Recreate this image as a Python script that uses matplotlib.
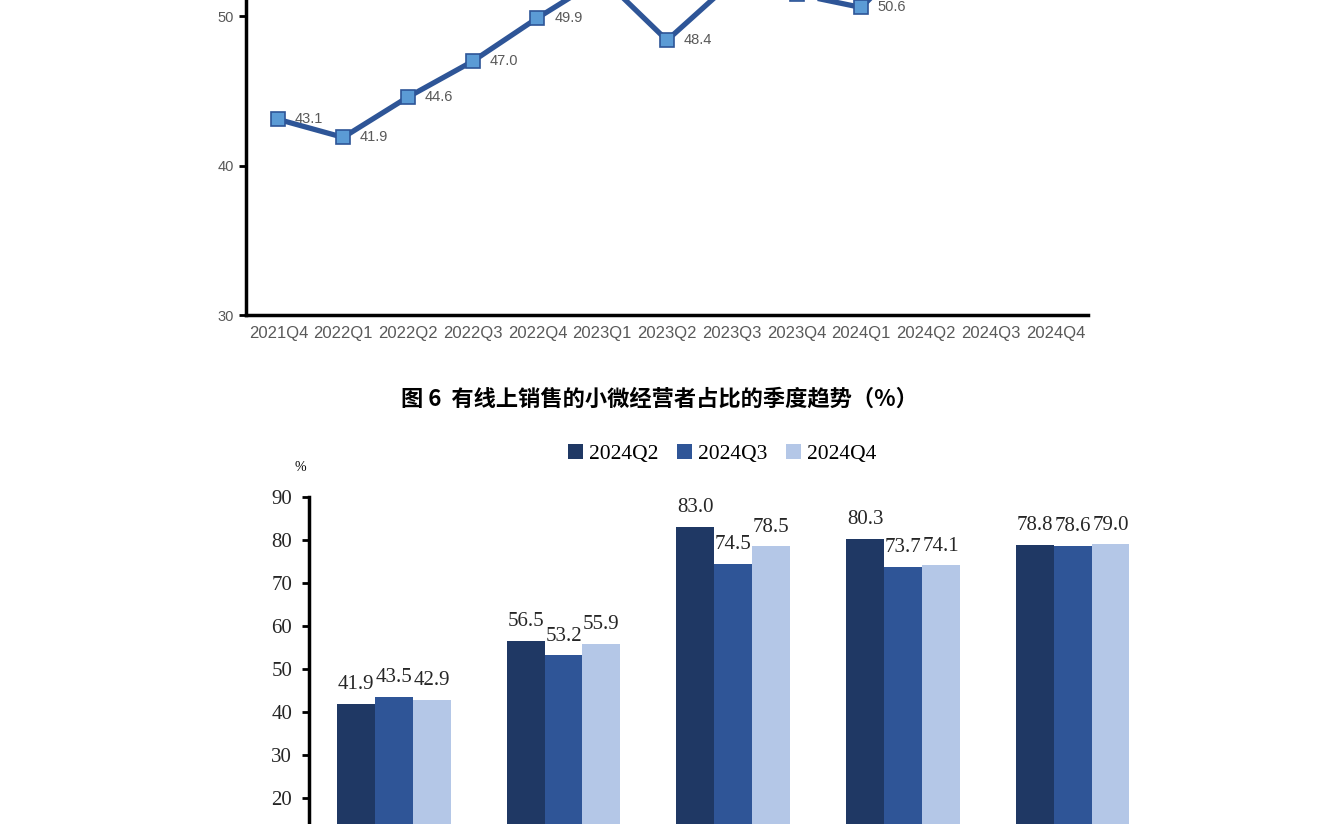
import matplotlib.pyplot as plt
import numpy as np

plt.rcParams['font.family'] = ['Liberation Sans', 'Noto Sans CJK SC', 'DejaVu Sans']

# 上图：有线上销售的小微经营者占比（季度）
quarters = ['2021Q4', '2022Q1', '2022Q2', '2022Q3', '2022Q4', '2023Q1', '2023Q2',
            '2023Q3', '2023Q4', '2024Q1', '2024Q2', '2024Q3', '2024Q4']
online_share = [43.1, 41.9, 44.6, 47.0, 49.9, 52.6, 48.4, 52.3, 51.5, 50.6, 55.0, 55.4, 55.9]

# 下图：分组柱状图
groups = ['', '', '', '', '']
series_names = ['2024Q2', '2024Q3', '2024Q4']
q2_vals = [41.9, 56.5, 83.0, 80.3, 78.8]
q3_vals = [43.5, 53.2, 74.5, 73.7, 78.6]
q4_vals = [42.9, 55.9, 78.5, 74.1, 79.0]
bar_colors = ['#1F3864', '#2F5597', '#B4C7E7']

fig = plt.figure(figsize=(13.3, 8.24), dpi=100)

# ---------- 上图（只露出下半部分） ----------
ax1 = fig.add_axes([0.185, 0.6177, 0.633, 0.5435])
x = np.arange(len(quarters))
ax1.plot(x, online_share, color='#2E5597', lw=3.8, marker='s', ms=9.5,
         mfc='#5B9BD5', mec='#2E5597', mew=1.2, zorder=3)
for xi, v in zip(x, online_share):
    if v > 51:  # 标签在画面上方之外
        continue
    ax1.annotate(f'{v:.1f}', (xi, v), xytext=(12, 0), textcoords='offset points',
                 ha='left', va='center', fontsize=10.5, color='#595959')
ax1.set_xlim(-0.5, len(quarters) - 0.5)
ax1.set_ylim(30, 60)
ax1.set_yticks([30, 40, 50])
ax1.set_xticks(x)
ax1.set_xticklabels(quarters, fontsize=12, color='#595959')
ax1.tick_params(axis='y', labelsize=10.5, labelcolor='#595959', length=5, width=2, direction='out')
ax1.tick_params(axis='x', length=0, pad=8)
for s in ['top', 'right']:
    ax1.spines[s].set_visible(False)
for s in ['left', 'bottom']:
    ax1.spines[s].set_linewidth(2.5)
    ax1.spines[s].set_color('black')

fig.text(0.496, 0.516, '图 6  有线上销售的小微经营者占比的季度趋势（%）', ha='center', va='center',
         fontsize=16, fontweight='bold', family=['Noto Sans CJK SC', 'DejaVu Sans'])

# ---------- 下图（只露出上半部分） ----------
ax2 = fig.add_axes([0.2323, -0.0728, 0.638, 0.4696])
gx = np.arange(len(groups))
w = 0.223
bars = []
for k, (vals, name, c) in enumerate(zip([q2_vals, q3_vals, q4_vals], series_names, bar_colors)):
    b = ax2.bar(gx + (k - 1) * w, vals, width=w, color=c, label=name, zorder=2)
    bars.append(b)
    for xi, v in zip(gx + (k - 1) * w, vals):
        ax2.annotate(f'{v:.1f}', (xi, v), xytext=(0, 7), textcoords='offset points',
                     ha='center', va='bottom', fontsize=15, color='#262626',
                     family='Liberation Serif')
ax2.set_xlim(-0.5, len(groups) - 0.5)
ax2.set_ylim(0, 90)
ax2.set_yticks(range(20, 100, 10))
ax2.set_xticks([])
ax2.tick_params(axis='y', length=5, width=2, direction='out', pad=7)
for lab in ax2.get_yticklabels():
    lab.set_family('Liberation Serif')
    lab.set_fontsize(15)
    lab.set_color('#262626')
for s in ['top', 'right']:
    ax2.spines[s].set_visible(False)
for s in ['left', 'bottom']:
    ax2.spines[s].set_linewidth(2.5)
    ax2.spines[s].set_color('black')

fig.text(0.226, 0.433, '%', ha='center', va='center', fontsize=10, family='Liberation Serif')
fig.legend(handles=bars, labels=series_names, loc='center', bbox_to_anchor=(0.543, 0.449),
           ncol=3, frameon=False, handlelength=0.7, handleheight=0.7, handletextpad=0.3,
           columnspacing=0.85, prop={'family': 'Liberation Serif', 'size': 15.5})

fig.savefig('out.png', dpi=100)
